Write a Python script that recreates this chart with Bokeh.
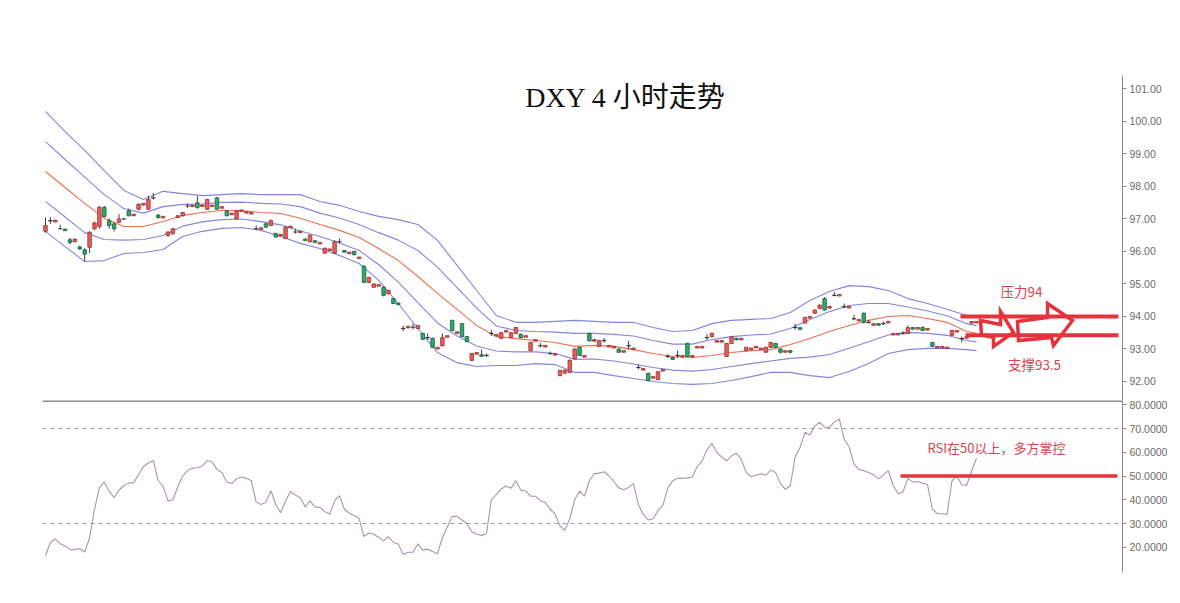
from bokeh.plotting import figure
from bokeh.models import Range1d, Span, Label, FixedTicker, NumeralTickFormatter, ColumnDataSource
from bokeh.layouts import column
from bokeh.embed import file_html
from bokeh.resources import INLINE

# ---------------- data ----------------
title_text = "DXY 4 小时走势"
price_ticks = [92, 93, 94, 95, 96, 97, 98, 99, 100, 101]
rsi_ticks = [20, 30, 40, 50, 60, 70, 80]
rsi_bands = [70, 30]
resistance = 94.0
support = 93.42
rsi_level = 50
label_res = "压力94"
label_sup = "支撑93.5"
label_rsi = "RSI在50以上，多方掌控"

opens = [
    96.62, 96.95, 96.92, 96.70, 96.68, 96.36, 96.30, 96.14, 96.05, 96.13,
    96.70, 96.77, 97.36, 96.95, 96.85, 96.90, 97.00, 97.25, 97.12, 97.30,
    97.45, 97.30, 97.65, 97.12, 97.05, 96.50, 96.55, 97.05, 97.10, 97.40,
    97.40, 97.50, 97.40, 97.30, 97.40, 97.65, 97.35, 97.25, 97.15, 97.00,
    97.25, 97.20, 97.17, 96.70, 96.70, 96.85, 96.80, 96.55, 96.50, 96.40,
    96.75, 96.60, 96.60, 96.38, 96.30, 96.32, 96.25, 95.95, 96.05, 95.95,
    96.30, 96.02, 95.95, 96.00, 95.80, 95.55, 95.05, 94.90, 94.95, 94.90,
    94.70, 94.55, 94.40, 93.63, 93.67, 93.67, 93.63, 93.48, 93.35, 93.33,
    93.02, 93.10, 93.38, 93.88, 93.50, 93.78, 93.38, 92.65, 92.86, 92.82,
    92.80, 93.48, 93.42, 93.33, 93.54, 93.35, 93.48, 93.45, 93.38, 92.95,
    93.26, 93.10, 93.08, 92.86, 92.83, 92.18, 92.26, 92.28, 92.70, 93.05,
    92.77, 93.48, 93.26, 93.08, 93.26, 93.08, 93.05, 93.00, 92.92, 93.10,
    93.00, 92.43, 92.37, 92.25, 92.12, 92.06, 92.34, 92.77, 92.74, 92.80,
    92.77, 93.17, 92.77, 93.05, 93.05, 93.35, 93.38, 93.23, 93.23, 92.77,
    93.17, 93.32, 93.30, 92.95, 93.00, 93.05, 93.00, 92.90, 93.05, 93.17,
    93.00, 92.92, 92.95, 93.66, 93.65, 93.80, 93.97, 94.10, 94.25, 94.55,
    94.26, 94.65, 94.65, 94.30, 94.28, 93.93, 93.88, 94.10, 93.82, 93.75,
    93.77, 93.78, 93.82, 93.45, 93.45, 93.48, 93.48, 93.65, 93.63, 93.66,
    93.60, 93.20, 93.05, 93.05, 93.03, 93.42, 93.54, 93.32, 93.35, 93.80,
    93.82,
]
highs = [
    97.05, 97.05, 96.98, 96.82, 96.70, 96.42, 96.40, 96.18, 96.10, 96.62,
    96.92, 97.40, 97.40, 97.02, 96.90, 97.15, 97.04, 97.32, 97.14, 97.48,
    97.47, 97.72, 97.80, 97.15, 97.07, 96.62, 96.72, 97.12, 97.22, 97.48,
    97.42, 97.70, 97.43, 97.62, 97.42, 97.68, 97.38, 97.28, 97.18, 97.28,
    97.27, 97.22, 97.19, 96.80, 96.72, 96.88, 96.98, 96.58, 96.52, 96.78,
    96.77, 96.70, 96.62, 96.40, 96.52, 96.34, 96.27, 96.12, 96.07, 96.35,
    96.40, 96.04, 95.97, 96.02, 95.82, 95.58, 95.22, 95.02, 94.97, 94.92,
    94.82, 94.57, 94.42, 93.72, 93.69, 93.78, 93.74, 93.50, 93.48, 93.35,
    93.04, 93.48, 93.40, 93.90, 93.52, 93.80, 93.40, 92.88, 92.88, 92.98,
    92.86, 93.58, 93.44, 93.52, 93.56, 93.52, 93.68, 93.47, 93.40, 93.22,
    93.28, 93.18, 93.10, 92.92, 92.85, 92.36, 92.37, 92.68, 93.02, 93.07,
    92.79, 93.50, 93.28, 93.28, 93.34, 93.10, 93.07, 93.02, 92.94, 93.25,
    93.02, 92.52, 92.39, 92.27, 92.14, 92.32, 92.36, 92.84, 92.76, 92.95,
    92.79, 93.19, 92.79, 93.07, 93.07, 93.45, 93.50, 93.25, 93.25, 93.19,
    93.40, 93.34, 93.32, 93.07, 93.02, 93.07, 93.02, 93.07, 93.22, 93.19,
    93.02, 92.94, 92.97, 93.78, 93.67, 93.99, 93.99, 94.22, 94.37, 94.60,
    94.33, 94.75, 94.67, 94.40, 94.30, 94.05, 93.90, 94.12, 93.90, 93.77,
    93.79, 93.85, 93.84, 93.47, 93.47, 93.55, 93.72, 93.67, 93.65, 93.70,
    93.62, 93.22, 93.07, 93.07, 93.05, 93.59, 93.56, 93.38, 93.37, 93.86,
    93.84,
]
lows = [
    96.58, 96.85, 96.90, 96.68, 96.64, 96.22, 96.28, 96.05, 95.70, 95.95,
    96.66, 96.70, 97.05, 96.70, 96.62, 96.88, 96.97, 97.08, 97.10, 97.28,
    97.42, 97.28, 97.60, 97.00, 97.03, 96.45, 96.52, 97.02, 97.08, 97.35,
    97.38, 97.32, 97.38, 97.28, 97.38, 97.28, 97.33, 97.08, 97.13, 96.98,
    97.23, 97.18, 97.15, 96.65, 96.68, 96.72, 96.78, 96.42, 96.48, 96.38,
    96.73, 96.55, 96.58, 96.32, 96.28, 96.27, 96.23, 95.93, 96.03, 95.93,
    96.25, 95.97, 95.93, 95.88, 95.78, 95.03, 95.03, 94.88, 94.93, 94.62,
    94.68, 94.38, 94.36, 93.55, 93.65, 93.60, 93.61, 93.28, 93.28, 93.03,
    93.00, 93.08, 93.36, 93.55, 93.48, 93.36, 93.20, 92.63, 92.84, 92.75,
    92.76, 93.40, 93.40, 93.31, 93.52, 93.33, 93.46, 93.33, 93.36, 92.93,
    93.24, 93.05, 93.06, 92.82, 92.81, 92.16, 92.24, 92.26, 92.68, 92.78,
    92.75, 93.23, 93.24, 93.06, 93.20, 93.06, 93.03, 92.88, 92.90, 92.98,
    92.98, 92.38, 92.35, 92.00, 92.10, 92.04, 92.32, 92.72, 92.66, 92.72,
    92.75, 92.75, 92.75, 93.03, 93.03, 93.28, 93.36, 93.21, 93.21, 92.75,
    93.15, 93.27, 93.28, 92.93, 92.98, 93.03, 92.98, 92.88, 93.03, 93.03,
    92.86, 92.90, 92.86, 93.60, 93.59, 93.78, 93.95, 94.08, 94.23, 94.18,
    94.24, 94.62, 94.63, 94.25, 94.26, 93.88, 93.86, 93.78, 93.78, 93.73,
    93.72, 93.74, 93.80, 93.43, 93.43, 93.44, 93.46, 93.60, 93.61, 93.55,
    93.58, 93.06, 93.03, 93.03, 93.01, 93.40, 93.52, 93.20, 93.33, 93.78,
    93.80,
]
closes = [
    96.80, 96.95, 96.95, 96.70, 96.65, 96.28, 96.38, 96.08, 95.92, 96.59,
    96.88, 97.36, 97.08, 96.80, 96.70, 97.00, 97.00, 97.10, 97.13, 97.45,
    97.46, 97.60, 97.65, 97.05, 97.06, 96.60, 96.70, 97.10, 97.20, 97.40,
    97.41, 97.35, 97.42, 97.60, 97.41, 97.30, 97.36, 97.10, 97.16, 97.25,
    97.26, 97.21, 97.18, 96.70, 96.71, 96.75, 96.95, 96.45, 96.51, 96.75,
    96.76, 96.60, 96.61, 96.34, 96.50, 96.29, 96.26, 96.10, 96.06, 96.30,
    96.30, 95.99, 95.96, 95.90, 95.81, 95.05, 95.20, 95.00, 94.96, 94.65,
    94.80, 94.40, 94.38, 93.63, 93.68, 93.67, 93.72, 93.30, 93.35, 93.05,
    93.03, 93.35, 93.39, 93.57, 93.51, 93.38, 93.23, 92.86, 92.87, 92.78,
    92.80, 93.48, 93.43, 93.50, 93.55, 93.50, 93.66, 93.35, 93.39, 93.20,
    93.27, 93.10, 93.09, 92.86, 92.84, 92.34, 92.35, 92.65, 93.00, 92.80,
    92.78, 93.25, 93.27, 93.26, 93.26, 93.09, 93.06, 92.90, 92.93, 93.10,
    93.01, 92.43, 92.38, 92.03, 92.13, 92.30, 92.35, 92.77, 92.68, 92.80,
    92.78, 92.77, 92.78, 93.06, 93.06, 93.35, 93.48, 93.24, 93.24, 93.17,
    93.38, 93.29, 93.31, 93.05, 93.01, 93.06, 93.01, 93.05, 93.20, 93.05,
    92.90, 92.93, 92.90, 93.66, 93.61, 93.97, 93.98, 94.20, 94.35, 94.20,
    94.31, 94.65, 94.66, 94.30, 94.29, 93.93, 93.89, 93.82, 93.82, 93.76,
    93.74, 93.78, 93.83, 93.46, 93.46, 93.48, 93.66, 93.62, 93.64, 93.57,
    93.61, 93.08, 93.06, 93.06, 93.04, 93.57, 93.55, 93.32, 93.36, 93.84,
    93.83,
]
rsi = [
    16.5, 22.0, 23.5, 21.5, 20.5, 19.0, 19.0, 19.5, 18.0, 24.0,
    36.0, 45.0, 47.5, 43.5, 41.0, 44.0, 46.0, 47.0, 47.2, 50.5,
    54.0, 55.5, 56.5, 48.0, 45.7, 39.5, 40.0, 45.5, 50.0, 52.3,
    53.3, 53.5, 54.2, 56.5, 56.0, 52.8, 51.5, 47.5, 46.8, 48.8,
    49.6, 49.0, 48.0, 39.0, 38.0, 39.0, 43.8, 38.0, 34.5, 39.5,
    43.5, 42.0, 40.8, 37.0, 39.5, 37.0, 36.8, 35.0, 33.9, 39.5,
    41.7, 36.0, 34.3, 33.4, 32.2, 24.5, 26.0, 25.5, 24.2, 22.7,
    24.5, 22.0, 21.4, 17.0, 17.9, 17.9, 21.4, 18.8, 19.2, 18.2,
    17.3, 24.0, 28.5, 33.0, 33.0, 31.5, 30.0, 26.5, 25.5, 25.0,
    25.8, 40.0, 42.2, 44.5, 45.8, 44.8, 48.0, 44.0, 43.7, 41.5,
    41.5, 39.5, 38.8, 36.0, 34.0, 29.0, 27.1, 32.0, 40.0, 43.6,
    41.5, 48.0, 51.0, 51.2, 51.8, 50.0, 47.7, 45.0, 44.2, 45.2,
    46.8, 38.0, 33.8, 31.5, 32.0, 35.5, 37.6, 45.0, 48.0, 49.0,
    49.0, 49.2, 49.6, 54.0, 56.3, 61.0, 63.8, 60.0, 58.0, 56.4,
    58.5, 59.6, 57.0, 51.5, 49.7, 50.3, 50.9, 50.3, 52.5, 51.5,
    46.8, 44.4, 46.0, 58.0, 62.1, 68.4, 67.3, 71.0, 72.6, 70.5,
    70.5, 72.8, 74.0, 65.5, 62.3, 55.0, 52.8, 52.2, 51.5, 50.5,
    48.8, 50.5, 52.2, 46.0, 42.5, 43.3, 49.0, 47.4, 47.7, 47.0,
    46.4, 36.0, 34.1, 34.1, 33.8, 48.0, 49.9, 46.3, 46.0, 52.0,
    57.5,
]

band_idx = [0, 4, 8, 12, 16, 20, 24, 28, 32, 36, 40, 44, 48, 52, 56, 60,
            64, 68, 72, 76, 80, 84, 88, 92, 96, 100, 104, 108, 112, 116,
            120, 124, 128, 132, 136, 140, 144, 148, 152, 156, 160, 164,
            168, 172, 176, 180, 184, 188, 190]
band_upper2 = [
    100.31, 99.69, 99.11, 98.49, 97.88, 97.60, 97.85, 97.78, 97.72, 97.75,
    97.78, 97.75, 97.75, 97.75, 97.54, 97.42, 97.23, 97.08, 96.98, 96.83,
    96.34, 95.57, 94.80, 94.03, 93.82, 93.82, 93.85, 93.88, 93.85, 93.82,
    93.82, 93.66, 93.54, 93.57, 93.78, 93.88, 93.91, 93.94, 94.12, 94.49,
    94.77, 94.95, 94.92, 94.80, 94.55, 94.40, 94.22, 94.03, 93.97]
band_upper1 = [
    99.38, 98.83, 98.29, 97.75, 97.32, 97.18, 97.38, 97.45, 97.46, 97.51,
    97.52, 97.48, 97.46, 97.38, 97.18, 97.03, 96.83, 96.58, 96.35, 96.03,
    95.52, 94.89, 94.26, 93.71, 93.57, 93.54, 93.52, 93.48, 93.48, 93.45,
    93.40, 93.26, 93.15, 93.15, 93.29, 93.38, 93.43, 93.46, 93.63, 93.91,
    94.15, 94.34, 94.40, 94.40, 94.29, 94.17, 94.02, 93.78, 93.72]
band_mid = [
    98.46, 97.97, 97.48, 97.02, 96.77, 96.77, 96.92, 97.11, 97.20, 97.26,
    97.26, 97.20, 97.17, 97.02, 96.83, 96.65, 96.43, 96.09, 95.72, 95.23,
    94.71, 94.22, 93.72, 93.38, 93.32, 93.26, 93.20, 93.08, 93.11, 93.08,
    92.98, 92.86, 92.77, 92.74, 92.80, 92.89, 92.95, 92.98, 93.14, 93.32,
    93.54, 93.72, 93.88, 94.00, 94.03, 93.94, 93.82, 93.54, 93.48]
band_lower1 = [
    97.54, 97.06, 96.58, 96.37, 96.35, 96.37, 96.49, 96.78, 96.91, 96.98,
    97.00, 96.92, 96.82, 96.63, 96.46, 96.26, 96.03, 95.60, 95.06, 94.43,
    93.80, 93.40, 93.09, 92.94, 92.91, 92.91, 92.86, 92.68, 92.69, 92.63,
    92.54, 92.43, 92.35, 92.32, 92.37, 92.46, 92.55, 92.63, 92.71, 92.75,
    92.83, 93.02, 93.22, 93.43, 93.51, 93.48, 93.42, 93.26, 93.22]
band_lower2 = [
    96.62, 96.15, 95.69, 95.72, 95.94, 95.97, 96.06, 96.46, 96.62, 96.71,
    96.74, 96.65, 96.46, 96.25, 96.09, 95.88, 95.63, 95.11, 94.40, 93.63,
    92.89, 92.58, 92.46, 92.49, 92.49, 92.55, 92.52, 92.28, 92.28, 92.18,
    92.09, 92.00, 91.94, 91.91, 91.94, 92.03, 92.15, 92.28, 92.28, 92.18,
    92.12, 92.31, 92.55, 92.86, 92.98, 93.02, 93.02, 92.98, 92.95]

# ---------------- styling / layout ----------------
X_LO, X_HI = -0.61, 219.8
P_LO, P_HI = 91.415, 101.415
R_LO, R_HI = 9.37, 81.79
FRAME_W = 1080
LEFT, TOP = 42, 75
UP_FILL, UP_LINE = "#e2605e", "#9e2e2c"
DN_FILL, DN_LINE = "#2eaa6c", "#17603c"
WICK = "#3a3a3a"
BAND = "#8585dc"
MID = "#e8724f"
ANN = "#e3343c"
ANN_TEXT = "#d8434d"
AX = "#8a8a8a"
TICK_TXT = "#6a6a6a"


def px_x(px):
    return X_LO + (px - 42) * (X_HI - X_LO) / FRAME_W


def px_p(py):
    return P_HI - (py - 75) * (P_HI - P_LO) / 325.0


def style_axis(ax, ticks, fmt):
    ax.ticker = FixedTicker(ticks=ticks)
    ax.formatter = NumeralTickFormatter(format=fmt)
    ax.axis_line_color = AX
    ax.axis_line_width = 1
    ax.major_tick_line_color = AX
    ax.major_tick_out = 4
    ax.major_tick_in = 0
    ax.minor_tick_line_color = None
    ax.major_label_text_color = TICK_TXT
    ax.major_label_text_font = "Liberation Sans"
    ax.major_label_text_font_size = "10.5px"
    ax.major_label_standoff = 3


xr = Range1d(X_LO, X_HI)
p1 = figure(frame_width=FRAME_W, frame_height=325, x_range=xr,
            y_range=Range1d(P_LO, P_HI), output_backend="svg",
            toolbar_location=None, y_axis_location="right",
            x_axis_location=None, min_border_left=LEFT, min_border_top=TOP,
            min_border_bottom=0, min_border_right=50)
p1.grid.visible = False
p1.outline_line_color = None
p1.background_fill_color = "white"
style_axis(p1.yaxis[0], price_ticks, "0.00")

n = len(closes)
idx = list(range(n))
kind = ["up" if c > o else ("dn" if c < o else "doji") for o, c in zip(opens, closes)]
tops, bots = [], []
for o, c in zip(opens, closes):
    t, b = max(o, c), min(o, c)
    if 0 < t - b < 0.05:
        m = (t + b) / 2
        t, b = m + 0.025, m - 0.025
    tops.append(t)
    bots.append(b)

# bands
p1.line(band_idx, band_upper2, color=BAND, line_width=1.1)
p1.line(band_idx, band_upper1, color=BAND, line_width=1.1)
p1.line(band_idx, band_lower1, color=BAND, line_width=1.1)
p1.line(band_idx, band_lower2, color=BAND, line_width=1.1)
p1.line(band_idx, band_mid, color=MID, line_width=1.1)

# candles
p1.segment(x0=idx, y0=lows, x1=idx, y1=highs, color=WICK, line_width=1)
for k, fc, lc in (("up", UP_FILL, UP_LINE), ("dn", DN_FILL, DN_LINE)):
    sel = [i for i in idx if kind[i] == k]
    src = ColumnDataSource(dict(x=sel, top=[tops[i] for i in sel],
                                bottom=[bots[i] for i in sel]))
    p1.vbar(x="x", top="top", bottom="bottom", width=0.72, source=src,
            fill_color=fc, line_color=lc, line_width=0.8)
dj = [i for i in idx if kind[i] == "doji"]
p1.segment(x0=[i - 0.45 for i in dj], x1=[i + 0.45 for i in dj],
           y0=[opens[i] for i in dj], y1=[opens[i] for i in dj],
           color=WICK, line_width=1.2)

# resistance / support
p1.segment(x0=[px_x(960), px_x(965)], x1=[px_x(1118), px_x(1118)],
           y0=[resistance, support], y1=[resistance, support],
           color=ANN, line_width=4)

arrow1 = [(980, 320), (1000, 324), (1000, 311), (1013, 332), (993, 346), (993, 337), (981, 334)]
arrow2 = [(1017, 321), (1047, 317), (1047, 303), (1072, 320), (1053, 345), (1051, 337), (1018, 340)]
p1.patches(xs=[[px_x(a) for a, b in arrow1], [px_x(a) for a, b in arrow2]],
           ys=[[px_p(b) for a, b in arrow1], [px_p(b) for a, b in arrow2]],
           fill_color="white", fill_alpha=0.0, line_color=ANN, line_width=3.5,
           line_join="miter")

p1.add_layout(Label(x=px_x(1021), y=px_p(290), text=label_res,
                    text_align="center", text_baseline="middle",
                    text_color=ANN_TEXT, text_font="Noto Sans CJK SC",
                    text_font_size="13.5px"))
p1.add_layout(Label(x=px_x(1034), y=px_p(363), text=label_sup,
                    text_align="center", text_baseline="middle",
                    text_color=ANN_TEXT, text_font="Noto Sans CJK SC",
                    text_font_size="13.5px"))
p1.add_layout(Label(x=px_x(625), y=px_p(97), text=title_text,
                    text_align="center", text_baseline="middle",
                    text_color="#111111",
                    text_font="'Liberation Serif', 'Noto Sans CJK SC'",
                    text_font_size="28px"))

# ---------------- RSI panel ----------------
p2 = figure(frame_width=FRAME_W, frame_height=172, x_range=xr,
            y_range=Range1d(R_LO, R_HI), output_backend="svg",
            toolbar_location=None, y_axis_location="right",
            x_axis_location=None, min_border_left=LEFT, min_border_top=0,
            min_border_bottom=8, min_border_right=50)
p2.grid.visible = False
p2.outline_line_color = None
style_axis(p2.yaxis[0], rsi_ticks, "0.0000")

for lv in rsi_bands:
    p2.add_layout(Span(location=lv, dimension="width", line_color="#9a9a9a",
                       line_dash="4 4", line_width=1))
p2.add_layout(Span(location=R_HI - 0.25, dimension="width",
                   line_color="#8c8c8c", line_width=2))
p2.line(idx, rsi, color="#a895b0", line_width=1.1)
p2.segment(x0=[px_x(900)], x1=[px_x(1117)], y0=[rsi_level], y1=[rsi_level],
           color=ANN, line_width=3.5)
p2.add_layout(Label(x=px_x(927), y=80 - (447 - 404.25) / 2.375, text=label_rsi,
                    text_align="left", text_baseline="middle",
                    text_color=ANN_TEXT, text_font="Noto Sans CJK SC",
                    text_font_size="13px"))

layout = column(p1, p2, spacing=0)
open("out.html", "w").write(file_html(layout, INLINE))
